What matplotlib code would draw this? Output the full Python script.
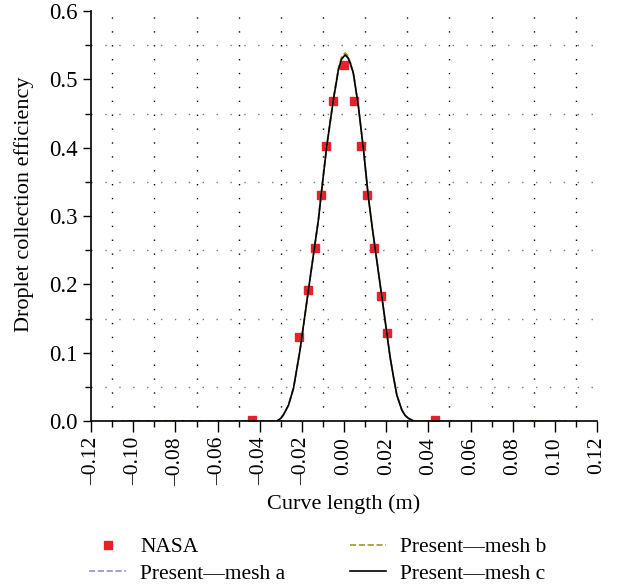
import matplotlib
matplotlib.use("Agg")
import matplotlib.pyplot as plt
from matplotlib.ticker import MultipleLocator, FuncFormatter

plt.rcParams['font.family'] = ['Liberation Serif', 'DejaVu Serif']

# NASA experimental data
nasa_x = [-0.0436, -0.0213, -0.0171, -0.0138, -0.0109, -0.0085, -0.0052, 0.0000,
          0.0047, 0.0081, 0.0109, 0.0142, 0.0176, 0.0204, 0.0432]
nasa_y = [0.002, 0.123, 0.192, 0.253, 0.331, 0.403, 0.468, 0.521,
          0.468, 0.403, 0.331, 0.253, 0.183, 0.129, 0.001]

# present simulation
curve_x = [-0.105, -0.032, -0.0311, -0.0300, -0.0288, -0.0264, -0.0240, -0.0225,
           -0.0209, -0.0169, -0.0141, -0.0122, -0.0109, -0.0082, -0.0051, -0.0027,
           -0.0012, 0.0005, 0.0018, 0.0030, 0.0044, 0.0068, 0.0092, 0.0115,
           0.0134, 0.0147, 0.0179, 0.0203, 0.0218, 0.0234, 0.0250, 0.0274,
           0.0290, 0.0305, 0.0330, 0.105]
mesh_a_y = [0.0, 0.0, 0.0015, 0.004, 0.009, 0.023, 0.048, 0.075,
            0.104, 0.192, 0.253, 0.294, 0.331, 0.403, 0.470, 0.514,
            0.530, 0.535, 0.532, 0.523, 0.508, 0.460, 0.397, 0.328,
            0.282, 0.253, 0.182, 0.128, 0.094, 0.065, 0.038, 0.016,
            0.008, 0.004, 0.0, 0.0]
mesh_b_y = [0.0, 0.0, 0.0015, 0.004, 0.009, 0.023, 0.048, 0.075,
            0.104, 0.192, 0.254, 0.295, 0.332, 0.404, 0.472, 0.517,
            0.533, 0.539, 0.535, 0.525, 0.510, 0.461, 0.398, 0.329,
            0.283, 0.254, 0.182, 0.128, 0.094, 0.065, 0.038, 0.016,
            0.008, 0.004, 0.0, 0.0]
mesh_c_y = [0.0, 0.0, 0.0015, 0.004, 0.009, 0.023, 0.048, 0.075,
            0.104, 0.192, 0.253, 0.294, 0.331, 0.403, 0.470, 0.514,
            0.530, 0.536, 0.532, 0.523, 0.509, 0.460, 0.397, 0.328,
            0.282, 0.253, 0.182, 0.128, 0.094, 0.065, 0.038, 0.016,
            0.008, 0.004, 0.0, 0.0]

fig = plt.figure(figsize=(6.2, 5.88), dpi=100)
ax = fig.add_axes([0.147, 0.284, 0.816, 0.697])

ax.plot(nasa_x, nasa_y, 's', color='#e8202a', markersize=6, label='NASA', zorder=2)
ax.plot(curve_x, mesh_a_y, '--', color='#9b8ccf', lw=1.2, label='Present\u2014mesh a', zorder=3)
ax.plot(curve_x, mesh_b_y, '--', color='#9a9a2a', lw=1.2, label='Present\u2014mesh b', zorder=3)
ax.plot(curve_x, mesh_c_y, '-', color='black', lw=1.2, label='Present\u2014mesh c', zorder=4)

ax.set_xlim(-0.12, 0.12)
ax.set_ylim(0.0, 0.6)
ax.xaxis.set_major_locator(MultipleLocator(0.02))
ax.xaxis.set_minor_locator(MultipleLocator(0.01))
ax.yaxis.set_major_locator(MultipleLocator(0.1))
ax.yaxis.set_minor_locator(MultipleLocator(0.05))
# long dash for the minus sign, like the original
ax.xaxis.set_major_formatter(FuncFormatter(lambda v, p: ('%.2f' % v).replace('-', '\u2013') if abs(v) > 1e-9 else '0.00'))
ax.yaxis.set_major_formatter(FuncFormatter(lambda v, p: '%.1f' % v))

for s in ['top', 'right']:
    ax.spines[s].set_visible(False)
ax.spines['left'].set_linewidth(1.2)
ax.spines['bottom'].set_linewidth(1.2)

ax.tick_params(axis='x', which='major', direction='out', length=8, width=1, labelsize=15.5, labelrotation=90)
ax.tick_params(axis='x', which='minor', direction='out', length=4, width=1)
ax.tick_params(axis='y', which='major', direction='out', length=6, width=1, labelsize=16.5)
ax.tick_params(axis='y', which='minor', direction='out', length=4, width=1)

# dotted grid on the minor positions
ax.grid(False)
ax.xaxis.grid(True, which='minor', linestyle=(0, (1, 9)), color='black', lw=1)
ax.yaxis.grid(True, which='minor', linestyle=(0, (1, 9)), color='#777777', lw=1)
ax.set_axisbelow(True)

ax.set_xlabel('Curve length (m)', fontsize=16, labelpad=6)
ax.set_ylabel('Droplet collection efficiency', fontsize=16)
ax.yaxis.set_label_coords(-0.112, 0.53)

leg = fig.legend(loc='center', bbox_to_anchor=(0.513, 0.047), ncol=2, frameon=False,
                 fontsize=15.5, handlelength=1.7, handletextpad=0.65,
                 columnspacing=3.0, labelspacing=0.3, borderpad=0.2)

fig.savefig('out.png', dpi=100)
